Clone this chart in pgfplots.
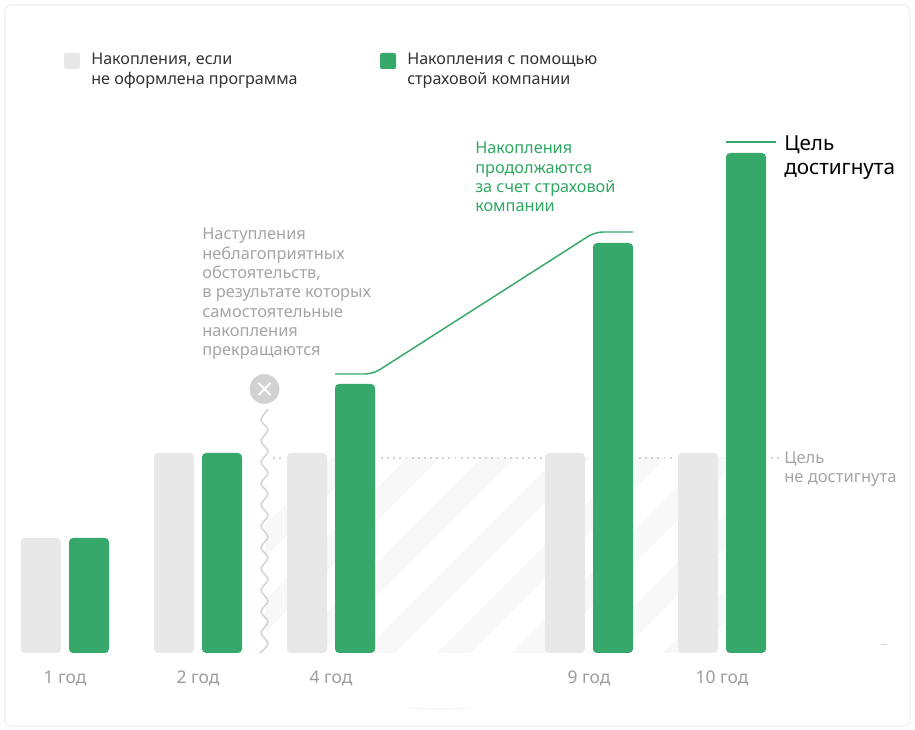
\documentclass[border=0pt]{standalone}
\usepackage{pgfplots}
\pgfplotsset{compat=1.18}
\usepackage{fontspec}
\setmainfont{Noto Sans}
\definecolor{gbar}{HTML}{36A96A}
\definecolor{gtxt}{HTML}{2FA863}
\definecolor{lbar}{HTML}{E8E8E8}
\definecolor{stripe}{HTML}{F8F8F8}
\definecolor{grytxt}{HTML}{A5A5A5}
\definecolor{wavy}{HTML}{D2D2D2}
\begin{document}
\begin{tikzpicture}
\begin{axis}[
  scale only axis, width=686.25pt, height=547.5pt,
  xmin=0, xmax=915, ymin=-77, ymax=653,
  axis line style={draw=none}, tick style={draw=none},
  ytick=\empty,
  xtick={65,198,331,589,722},
  xticklabels={1 год,2 год,4 год,9 год,10 год},
  xticklabel style={anchor=base, yshift=34.8pt, font=\fontsize{13.1}{16}\selectfont, text=grytxt!95!black},
  clip=false,
]
% card
\draw[draw=black!4.5, line width=1.2pt, rounded corners=5pt] (axis cs:5,648) rectangle (axis cs:910,-73);
\fill[black!4] (axis cs:407,-55) .. controls (axis cs:430,-57.5) and (axis cs:452,-57.5) .. (axis cs:475,-55) -- cycle;
% stripes
\begin{scope}
\clip (axis cs:265,195) rectangle (axis cs:740,0);
\fill[stripe] (axis cs:137,0) -- (axis cs:170,0) -- (axis cs:470,300) -- (axis cs:437,300) -- cycle;
\fill[stripe] (axis cs:212,0) -- (axis cs:245,0) -- (axis cs:545,300) -- (axis cs:512,300) -- cycle;
\fill[stripe] (axis cs:287,0) -- (axis cs:320,0) -- (axis cs:620,300) -- (axis cs:587,300) -- cycle;
\fill[stripe] (axis cs:362,0) -- (axis cs:395,0) -- (axis cs:695,300) -- (axis cs:662,300) -- cycle;
\fill[stripe] (axis cs:437,0) -- (axis cs:470,0) -- (axis cs:770,300) -- (axis cs:737,300) -- cycle;
\fill[stripe] (axis cs:512,0) -- (axis cs:545,0) -- (axis cs:845,300) -- (axis cs:812,300) -- cycle;
\fill[stripe] (axis cs:587,0) -- (axis cs:620,0) -- (axis cs:920,300) -- (axis cs:887,300) -- cycle;
\fill[stripe] (axis cs:662,0) -- (axis cs:695,0) -- (axis cs:995,300) -- (axis cs:962,300) -- cycle;
\end{scope}
% dotted target line
\addplot[wavy, line width=1.1pt, dash pattern=on 1.4pt off 3.2pt] coordinates {(273,195)(284,195)};
\addplot[wavy, line width=1.1pt, dash pattern=on 1.4pt off 3.2pt] coordinates {(381,195)(544,195)};
\addplot[wavy, line width=1.1pt, dash pattern=on 1.4pt off 3.2pt] coordinates {(639,195)(672,195)};
\addplot[wavy, line width=1.1pt, dash pattern=on 1.4pt off 3.2pt] coordinates {(771,195)(780,195)};
% wavy interruption
\addplot[wavy, line width=1.1pt, smooth, tension=0.55] coordinates {
(268,243.5)(261,233)(268,223)(261,212)(268,201.5)(261,191)(268,180)(261,169.5)(268,159)(261,148)(268,137.5)(261,127)(268,116)(261,105.5)(268,95)(261,84)(268,73.5)(261,63)(268,52)(261,41.5)(268,31)(261,20)(268,9.5)(260,0)};
\addplot[only marks, mark=*, mark size=10.9pt, mark options={fill=wavy, draw=wavy}] coordinates {(264.5,264)};
\addplot[only marks, mark=x, mark size=6.4pt, mark options={draw=white, line width=1.5pt}] coordinates {(264.5,264)};
% bars
\addplot[ybar, bar width=40, bar shift=0pt, fill=lbar, draw=none, rounded corners=3pt] coordinates {(41,115)(174,200)(307,200)(565,200)(698,200)};
\addplot[ybar, bar width=40, bar shift=0pt, fill=gbar, draw=none, rounded corners=3pt] coordinates {(89,115)(222,200)(355,269)(613,410)(746,500)};
% green lines
\addplot[gbar, line width=1.1pt, rounded corners=6pt] coordinates {(335,279)(373,279)(595,421)(633,421)};
\addplot[gbar, line width=1.1pt] coordinates {(726,511)(776,511)};
% legend
\fill[lbar, rounded corners=1.5pt] (axis cs:64,600) rectangle (axis cs:80,584);
\fill[gbar, rounded corners=1.5pt] (axis cs:380,600) rectangle (axis cs:396,584);
\node[anchor=north west, inner sep=0pt, align=left, text=black!80, font=\fontsize{12.1}{15}\selectfont] at (axis cs:91,600) {Накопления, если\\не оформлена программа};
\node[anchor=north west, inner sep=0pt, align=left, text=black!80, font=\fontsize{12.1}{15}\selectfont] at (axis cs:407,600) {Накопления с помощью\\страховой компании};
% notes
\node[anchor=north west, inner sep=0pt, align=left, text=grytxt, font=\fontsize{12.3}{14.45}\selectfont] at (axis cs:202,425) {Наступления\\неблагоприятных\\обстоятельств,\\в результате которых\\самостоятельные\\накопления\\прекращаются};
\node[anchor=north west, inner sep=0pt, align=left, text=gtxt, font=\fontsize{12.2}{14.4}\selectfont] at (axis cs:475,511) {Накопления\\продолжаются\\за счет страховой\\компании};
\node[anchor=north west, inner sep=0pt, align=left, text=black, font=\fontsize{15.5}{18}\selectfont] at (axis cs:784,517.7) {Цель\\достигнута};
\node[anchor=north west, inner sep=0pt, align=left, text=grytxt, font=\fontsize{12.4}{14.5}\selectfont] at (axis cs:784,201.6) {Цель\\не достигнута};
% small specks
\draw[black!18, line width=0.6pt] (axis cs:881,9) -- (axis cs:887,9);
\end{axis}
\end{tikzpicture}
\end{document}
